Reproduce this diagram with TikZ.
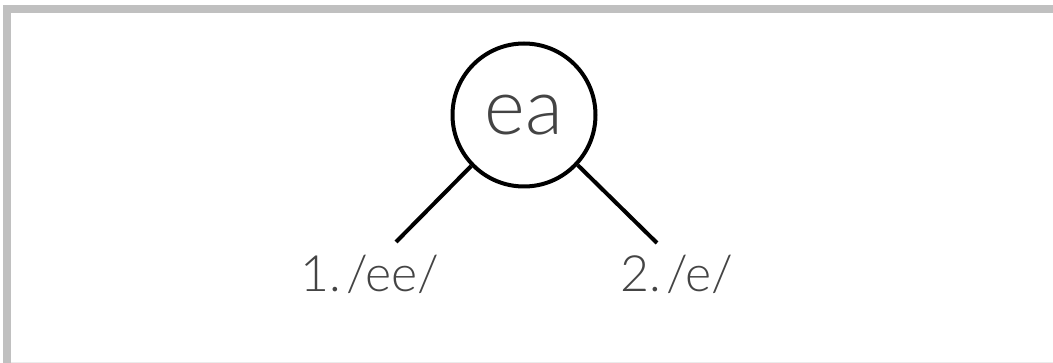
\documentclass[tikz,border=0pt]{standalone}
\usepackage{fontspec}
\setmainfont{Lato Light}
\definecolor{txt}{HTML}{444444}
\definecolor{bar}{HTML}{C0C0C0}
\begin{document}
\begin{tikzpicture}[x=1pt,y=-1pt,
  conn/.style={line width=4pt},
  lbl/.style={text=txt,font=\fontsize{50}{60}\selectfont,inner sep=0pt,anchor=base}]
\useasboundingbox (0,0) rectangle (1053,363);
\fill[white] (0,0) rectangle (1053,363);
\fill[bar] (3,5) rectangle (1053,13);
\fill[bar] (3,5) rectangle (11,363);
\draw[black!8,line width=1pt] (11,362.5) -- (1053,362.5);
\node[circle,draw,line width=4pt,minimum size=143pt,inner sep=0pt,text=txt,font=\fontsize{78}{86}\selectfont] (ea) at (524,115) {ea};
\coordinate (l) at (396,242);
\coordinate (r) at (657,243);
\node[lbl] (one) at (370,292) {1.\hspace{0.1em}/ee/};
\node[lbl] (two) at (677,292) {2.\hspace{0.1em}/e/};
\draw[conn] (ea.-136) -- (l);
\draw[conn] (ea.-43) -- (r);
\end{tikzpicture}
\end{document}
